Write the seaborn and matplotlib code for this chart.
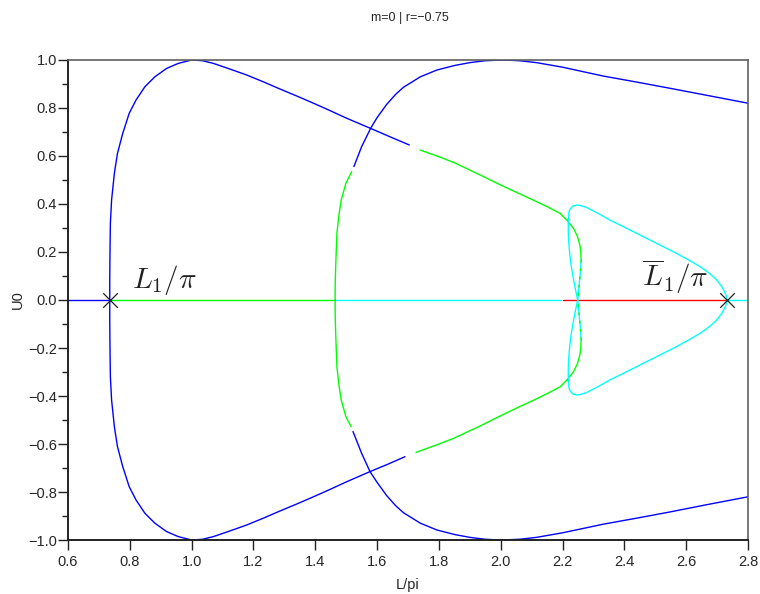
import matplotlib
matplotlib.use("Agg")
import matplotlib.pyplot as plt
import seaborn as sns
from matplotlib.ticker import MultipleLocator

# --- data (L/pi, U0) ---
# trivial solution U0 = 0, split by colour
triv_blue_L = [0.6, 0.735]
triv_green_L = [0.735, 1.464]
triv_cyan_L = [1.468, 2.194]
triv_red_L = [2.202, 2.732]
triv_cyan2_L = [2.732, 2.8]

# first branch, upper half (blue then green)
a_up_blue_L = [0.735, 0.735, 0.7355, 0.737, 0.741, 0.750, 0.760, 0.777, 0.798, 0.82, 0.849, 0.881,
               0.919, 0.957, 1.0, 1.035, 1.07, 1.12, 1.178, 1.232, 1.286, 1.34, 1.394, 1.448,
               1.502, 1.579, 1.640, 1.704]
a_up_blue_U = [0.0, 0.08, 0.167, 0.319, 0.417, 0.528, 0.611, 0.694, 0.778, 0.833, 0.889, 0.93,
               0.965, 0.986, 1.0, 0.997, 0.986, 0.964, 0.9375, 0.909, 0.879, 0.85, 0.82, 0.789,
               0.757, 0.715, 0.681, 0.646]
a_up_green_L = [1.739, 1.80, 1.85, 1.933, 2.0, 2.05, 2.104, 2.15, 2.192, 2.215, 2.235, 2.248,
                2.256, 2.259, 2.26]
a_up_green_U = [0.625, 0.597, 0.572, 0.521, 0.479, 0.449, 0.417, 0.389, 0.361, 0.331, 0.299, 0.266,
                0.229, 0.2, 0.167]

# first branch, lower half
a_lo_blue_L = [0.735, 0.735, 0.7355, 0.737, 0.741, 0.750, 0.760, 0.777, 0.798, 0.82, 0.849, 0.881,
               0.919, 0.957, 1.0, 1.035, 1.07, 1.12, 1.178, 1.232, 1.286, 1.34, 1.394, 1.448,
               1.502, 1.577, 1.635, 1.69]
a_lo_blue_U = [0.0, -0.08, -0.167, -0.319, -0.417, -0.528, -0.611, -0.694, -0.778, -0.833, -0.889, -0.93,
               -0.965, -0.986, -1.0, -0.997, -0.986, -0.964, -0.9375, -0.909, -0.879, -0.85, -0.82, -0.789,
               -0.757, -0.715, -0.684, -0.653]
a_lo_green_L = [1.726, 1.80, 1.85, 1.933, 2.0, 2.05, 2.104, 2.15, 2.192, 2.215, 2.235, 2.248,
                2.256, 2.259, 2.26]
a_lo_green_U = [-0.635, -0.6, -0.575, -0.525, -0.482, -0.451, -0.419, -0.39, -0.362, -0.332, -0.3,
                -0.266, -0.229, -0.2, -0.167]

# the two arms meeting at the crossing point, drawn cyan with green dashes
x_up_L = [2.26, 2.258, 2.255, 2.252, 2.249]
x_up_U = [0.167, 0.12, 0.08, 0.04, 0.0]
x_lo_L = [2.26, 2.258, 2.255, 2.252, 2.249]
x_lo_U = [-0.167, -0.12, -0.08, -0.04, 0.0]

# second branch, upper half (green then blue)
b_up_green_L = [1.464, 1.4645, 1.466, 1.470, 1.476, 1.484, 1.499, 1.518]
b_up_green_U = [0.0, 0.07, 0.139, 0.278, 0.35, 0.417, 0.486, 0.535]
b_up_blue_L = [1.525, 1.55, 1.579, 1.60, 1.631, 1.66, 1.685, 1.74, 1.793, 1.85, 1.90, 1.95,
               2.008, 2.06, 2.116, 2.2, 2.332, 2.44, 2.548, 2.67, 2.8]
b_up_blue_U = [0.556, 0.639, 0.715, 0.76, 0.815, 0.857, 0.886, 0.93, 0.958, 0.977, 0.989, 0.997,
               1.0, 0.997, 0.989, 0.97, 0.933, 0.908, 0.882, 0.852, 0.82]

# second branch, lower half
b_lo_green_L = [1.464, 1.4645, 1.466, 1.470, 1.476, 1.484, 1.499, 1.516]
b_lo_green_U = [0.0, -0.07, -0.139, -0.278, -0.35, -0.417, -0.486, -0.528]
b_lo_blue_L = [1.522, 1.55, 1.577, 1.60, 1.631, 1.66, 1.685, 1.74, 1.793, 1.85, 1.90, 1.95,
               2.0, 2.06, 2.116, 2.2, 2.332, 2.44, 2.548, 2.67, 2.8]
b_lo_blue_U = [-0.548, -0.639, -0.715, -0.76, -0.815, -0.857, -0.886, -0.93, -0.958, -0.977, -0.989,
               -0.997, -1.0, -0.997, -0.989, -0.97, -0.934, -0.909, -0.883, -0.852, -0.82]

# cyan loop from L1bar back to the crossing
c_up_L = [2.732, 2.729, 2.722, 2.715, 2.703, 2.688, 2.668, 2.645, 2.61, 2.569, 2.515, 2.461,
          2.407, 2.353, 2.315, 2.278, 2.26, 2.246, 2.233, 2.225, 2.221, 2.219, 2.2185, 2.219,
          2.222, 2.226, 2.232, 2.24, 2.249]
c_up_U = [0.0, 0.021, 0.04, 0.056, 0.077, 0.097, 0.118, 0.139, 0.165, 0.194, 0.229, 0.264,
          0.299, 0.333, 0.361, 0.385, 0.393, 0.396, 0.391, 0.38, 0.368, 0.34, 0.3, 0.26,
          0.21, 0.16, 0.11, 0.055, 0.0]
c_lo_L = [2.732, 2.729, 2.722, 2.715, 2.703, 2.688, 2.668, 2.645, 2.61, 2.569, 2.515, 2.461,
          2.407, 2.353, 2.315, 2.278, 2.26, 2.246, 2.233, 2.225, 2.221, 2.219, 2.2185, 2.219,
          2.222, 2.226, 2.232, 2.24, 2.249]
c_lo_U = [0.0, -0.021, -0.04, -0.056, -0.077, -0.097, -0.118, -0.139, -0.165, -0.194, -0.229, -0.264,
          -0.299, -0.333, -0.361, -0.385, -0.393, -0.396, -0.391, -0.38, -0.368, -0.34, -0.3, -0.26,
          -0.21, -0.16, -0.11, -0.055, 0.0]

# bifurcation points
bif_L = [0.735, 2.732]
bif_U = [0.0, 0.0]

BLUE, GREEN, CYAN, RED = "#0000ff", "#00ff00", "#00ffff", "#ff0000"

sns.set_style("ticks")
plt.rcParams["font.family"] = ["Liberation Sans", "DejaVu Sans"]
plt.rcParams["mathtext.fontset"] = "cm"

fig = plt.figure(figsize=(7.6, 5.94), dpi=100)
ax = fig.add_axes([0.0895, 0.0909, 0.8947, 0.8081])


def curve(xs, ys, color, lw=1.0, **kw):
    sns.lineplot(x=xs, y=ys, sort=False, estimator=None, color=color, lw=lw, ax=ax, **kw)


curve(triv_blue_L, [0, 0], BLUE)
curve(triv_green_L, [0, 0], GREEN)
curve(triv_cyan_L, [0, 0], CYAN)
curve(triv_red_L, [0, 0], RED)
curve(triv_cyan2_L, [0, 0], CYAN)

curve(a_up_blue_L, a_up_blue_U, BLUE)
curve(a_lo_blue_L, a_lo_blue_U, BLUE)
curve(a_up_green_L, a_up_green_U, GREEN)
curve(a_lo_green_L, a_lo_green_U, GREEN)

curve(b_up_green_L, b_up_green_U, GREEN)
curve(b_lo_green_L, b_lo_green_U, GREEN)
curve(b_up_blue_L, b_up_blue_U, BLUE)
curve(b_lo_blue_L, b_lo_blue_U, BLUE)

curve(c_up_L, c_up_U, CYAN)
curve(c_lo_L, c_lo_U, CYAN)

curve(x_up_L, x_up_U, CYAN)
curve(x_lo_L, x_lo_U, CYAN)
curve(x_up_L, x_up_U, GREEN, dashes=(2, 4))
curve(x_lo_L, x_lo_U, GREEN, dashes=(2, 4))

sns.scatterplot(x=bif_L, y=bif_U, marker="x", s=110, color="#222222", linewidth=0.9, ax=ax, zorder=5)

ax.text(0.806, 0.05, r"$L_1/\pi$", fontsize=21, color="#222222", va="baseline")
ax.text(2.456, 0.055, r"$\overline{L}_1/\pi$", fontsize=21, color="#222222", va="baseline")

ax.set_xlim(0.6, 2.8)
ax.set_ylim(-1.0, 1.0)
ax.xaxis.set_major_locator(MultipleLocator(0.2))
ax.yaxis.set_major_locator(MultipleLocator(0.2))
ax.yaxis.set_minor_locator(MultipleLocator(0.1))
ax.tick_params(axis="both", which="major", length=7, width=1.0, labelsize=10.5, color="#222222")
ax.tick_params(axis="y", which="minor", length=4.5, width=1.0, color="#222222")
ax.tick_params(axis="y", which="major", pad=1)
ax.tick_params(axis="x", which="major", pad=4)

for side in ["left", "bottom"]:
    ax.spines[side].set_color("#222222")
    ax.spines[side].set_linewidth(1.4)
for side in ["top", "right"]:
    ax.spines[side].set_visible(True)
    ax.spines[side].set_color("#606060")
    ax.spines[side].set_linewidth(1.2)

ax.set_xlabel("L/pi", fontsize=10.5)
ax.set_ylabel("U0", fontsize=10.5)
ax.xaxis.set_label_coords(0.5, -0.079)
ax.yaxis.set_label_coords(-0.063, 0.5)

fig.text(0.539, 0.97, "m=0 | r=\u22120.75", fontsize=9, ha="center", va="center")

fig.savefig("out.png", dpi=100)
plt.close(fig)
